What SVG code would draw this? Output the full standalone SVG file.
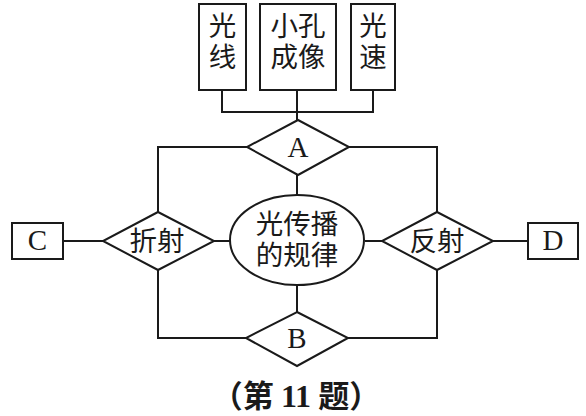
<svg xmlns="http://www.w3.org/2000/svg" width="586" height="416" viewBox="0 0 586 416">
<style>
.s{fill:none;stroke:#1a1a1a;stroke-width:2}
.n{fill:#fff;stroke:#1a1a1a;stroke-width:2}
.cj{font-family:"Liberation Serif","Noto Sans CJK SC",sans-serif;font-size:27.5px;fill:#1a1a1a;text-anchor:middle}
.la{font-family:"Liberation Serif",serif;font-size:29px;fill:#1a1a1a;text-anchor:middle}
</style>
<rect width="586" height="416" fill="#fff"/>
<g id="connectors" class="s">
<polyline points="222,90 222,112 373,112 373,90"/>
<line x1="297" y1="90" x2="297" y2="120"/>
<polyline points="247,147 158,147 158,212"/>
<polyline points="349,147 437,147 437,212"/>
<line x1="297" y1="175" x2="297" y2="195"/>
<line x1="297" y1="285" x2="297" y2="312"/>
<polyline points="246,338 158,338 158,270"/>
<polyline points="348,338 437,338 437,270"/>
<line x1="63" y1="241" x2="103" y2="241"/>
<line x1="214" y1="241" x2="230" y2="241"/>
<line x1="365" y1="241" x2="382" y2="241"/>
<line x1="493" y1="241" x2="528" y2="241"/>
</g>
<g id="n-guangxian"><rect class="n" x="199" y="4" width="47" height="86"/><text class="cj" x="222.5" y="36">光<tspan x="222.5" dy="30.5">线</tspan></text></g>
<g id="n-xiaokong"><rect class="n" x="260" y="4" width="76" height="86"/><text class="cj" x="298" y="36">小孔<tspan x="298" dy="30.5">成像</tspan></text></g>
<g id="n-guangsu"><rect class="n" x="351" y="4" width="44" height="86"/><text class="cj" x="373" y="36">光<tspan x="373" dy="30.5">速</tspan></text></g>
<g id="n-A"><polygon class="n" points="298,120 349,147 298,175 247,147"/><text class="la" x="298" y="157">A</text></g>
<g id="n-center"><ellipse class="n" cx="297" cy="240" rx="67" ry="45"/><text class="cj" x="297" y="234">光传播<tspan x="297" dy="30.5">的规律</tspan></text></g>
<g id="n-zheshe"><polygon class="n" points="158,212 214,241 158,270 103,241"/><text class="cj" x="157" y="251">折射</text></g>
<g id="n-fanshe"><polygon class="n" points="437,212 493,241 437,270 382,241"/><text class="cj" x="437" y="251">反射</text></g>
<g id="n-B"><polygon class="n" points="297,312 348,338 297,366 246,338"/><text class="la" x="297" y="348">B</text></g>
<g id="n-C"><rect class="n" x="12" y="223" width="51" height="36"/><text class="la" x="37.5" y="250">C</text></g>
<g id="n-D"><rect class="n" x="528" y="223" width="50" height="36"/><text class="la" x="553" y="250">D</text></g>
<text x="296" y="407" font-family="Noto Sans CJK SC,sans-serif" font-size="31" font-weight="bold" fill="#1a1a1a" text-anchor="middle">（第 <tspan font-family="Liberation Serif,serif" font-size="32">11</tspan> 题）</text>
</svg>
